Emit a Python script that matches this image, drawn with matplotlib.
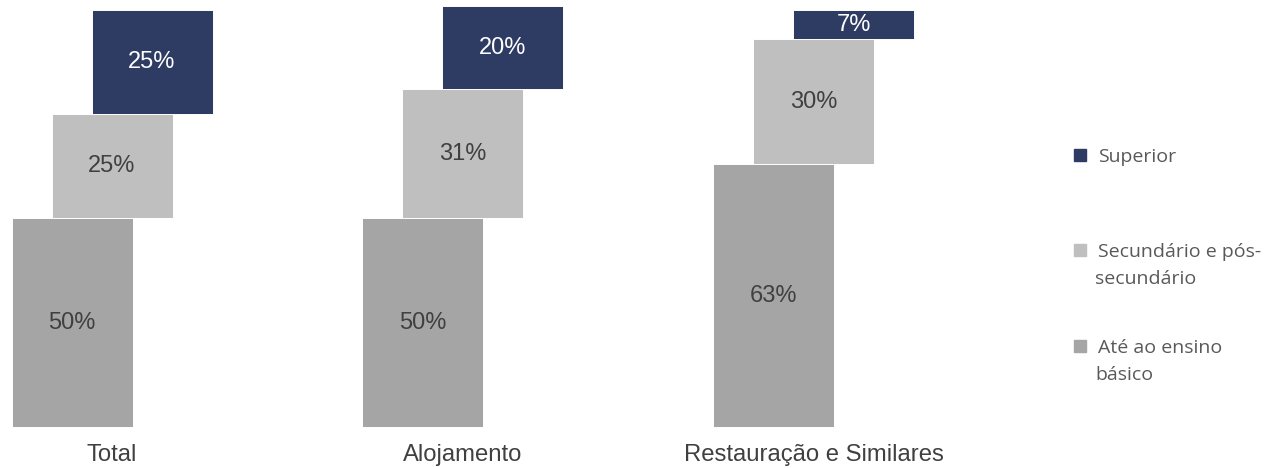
import matplotlib
matplotlib.use("Agg")
import matplotlib.pyplot as plt
from matplotlib.patches import Rectangle

# Data
categories = ["Total", "Alojamento", "Restauração e Similares"]
basico = [50, 50, 63]
secundario = [25, 31, 30]
superior = [25, 20, 7]
legend_labels = [["Superior"],
                 ["Secundário e pós-", "secundário"],
                 ["Até ao ensino", "básico"]]

COL_BASICO = "#A5A5A5"
COL_SECUND = "#BFBFBF"
COL_SUPER = "#2E3B63"
TXT = "#404040"

W, H = 1276, 468
fig = plt.figure(figsize=(W / 100, H / 100), dpi=100)

# axes placed in pixel terms: y=0 at px 427, y=100 at px 10
ax_left, ax_right = 0, 1000
ax = fig.add_axes([ax_left / W, (H - 427) / H, (ax_right - ax_left) / W, 417 / H])
step = 350.75
ax.set_xlim(-112 / step, (ax_right - 112) / step)
ax.set_ylim(0, 100)
ax.axis("off")

width = 121 / step
shift = 40 / step

for i, cat in enumerate(categories):
    segs = [
        (basico[i], 0, i - shift, COL_BASICO, TXT),
        (secundario[i], basico[i], i, COL_SECUND, TXT),
        (superior[i], basico[i] + secundario[i], i + shift, COL_SUPER, "white"),
    ]
    for val, bottom, xc, col, tcol in segs:
        ax.bar(xc, val, width=width, bottom=bottom, color=col,
               edgecolor="white", linewidth=0.7, clip_on=False)
        ax.text(xc, bottom + val / 2, f"{val}%", ha="center", va="center",
                fontsize=17, color=tcol, family="Liberation Sans")
    ax.text(i, -6.8, cat, ha="center", va="center", fontsize=17.2,
            color=TXT, family="Liberation Sans", clip_on=False)

# legend drawn by hand
leg_cols = [COL_SUPER, COL_SECUND, COL_BASICO]
sq_y = [155, 250, 346]
for col, yc, lines in zip(leg_cols, sq_y, legend_labels):
    fig.patches.append(Rectangle(((1074) / W, (H - yc - 6) / H), 12 / W, 12 / H,
                                 transform=fig.transFigure, color=col))
    for k, line in enumerate(lines):
        x = 1098 if k == 0 else 1095
        y = yc + 2 + k * 27
        fig.text(x / W, (H - y) / H, line, ha="left", va="center",
                 fontsize=14, color="#595959", family="Open Sans")

fig.savefig("out.png", dpi=100)
